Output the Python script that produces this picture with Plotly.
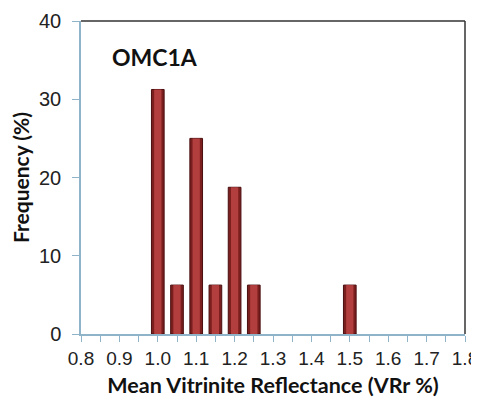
import plotly.graph_objects as go

reflectance = [1.00, 1.05, 1.10, 1.15, 1.20, 1.25, 1.50]
frequency = [31.25, 6.25, 25.0, 6.25, 18.75, 6.25, 6.25]
x_ticks = [0.8, 0.9, 1.0, 1.1, 1.2, 1.3, 1.4, 1.5, 1.6, 1.7, 1.8]
x_tick_labels = ["0.8", "0.9", "1.0", "1.1", "1.2", "1.3", "1.4", "1.5", "1.6", "1.7", "1.8"]
y_ticks = [0, 10, 20, 30, 40]
sample_name = "OMC1A"

fig = go.Figure()
fig.add_trace(go.Bar(
    x=reflectance, y=frequency, width=0.033,
    marker=dict(color="#7a1e1e", line=dict(color="#4a0e0e", width=1)),
))
fig.add_trace(go.Bar(
    x=reflectance, y=frequency, width=0.019,
    marker=dict(color="#b23e3e", line=dict(width=0)),
))

axis_blue = "#8fb3c9"
fig.update_layout(
    width=471, height=394,
    barmode="overlay",
    margin=dict(l=73, r=14, t=13, b=68),
    paper_bgcolor="white", plot_bgcolor="white",
    showlegend=False,
    font=dict(family="Liberation Sans, Arial", color="#222"),
    xaxis=dict(
        range=[0.8, 1.8], tickmode="array", tickvals=x_ticks, ticktext=x_tick_labels,
        automargin=False,
        ticks="outside", ticklen=6, tickcolor=axis_blue, tickwidth=1,
        minor=dict(dtick=0.05, tick0=0.8, ticks="outside", ticklen=6, tickcolor=axis_blue, showgrid=False),
        showline=True, linecolor=axis_blue, linewidth=1.5, showgrid=False, zeroline=False,
        tickfont=dict(size=19, color="#222"),
        title=dict(text="<b>Mean Vitrinite Reflectance (VRr %)</b>", font=dict(family="Lato, Open Sans", size=21.5, color="#111"), standoff=10),
    ),
    yaxis=dict(
        range=[0, 40], tickmode="array", tickvals=y_ticks,
        automargin=False,
        ticks="outside", ticklen=7, tickcolor=axis_blue,
        ticklabelstandoff=7,
        showline=True, linecolor=axis_blue, linewidth=1.5, showgrid=False, zeroline=False,
        tickfont=dict(size=20, color="#222"),
        title=dict(text="<b>Frequency (%)</b>", font=dict(family="Lato, Open Sans", size=21, color="#111"), standoff=6),
    ),
    shapes=[
        dict(type="line", xref="paper", yref="paper", x0=0, x1=1, y0=1, y1=1, line=dict(color="#333", width=1.5)),
        dict(type="line", xref="paper", yref="paper", x0=1, x1=1, y0=0, y1=1, line=dict(color="#333", width=1.5)),
    ],
    annotations=[
        dict(text="<b>" + sample_name + "</b>", xref="paper", yref="paper", x=0.075, y=0.885,
             xanchor="left", yanchor="middle", showarrow=False,
             font=dict(family="Lato, Open Sans", size=23, color="#111")),
    ],
)

fig.write_html("out.html")
